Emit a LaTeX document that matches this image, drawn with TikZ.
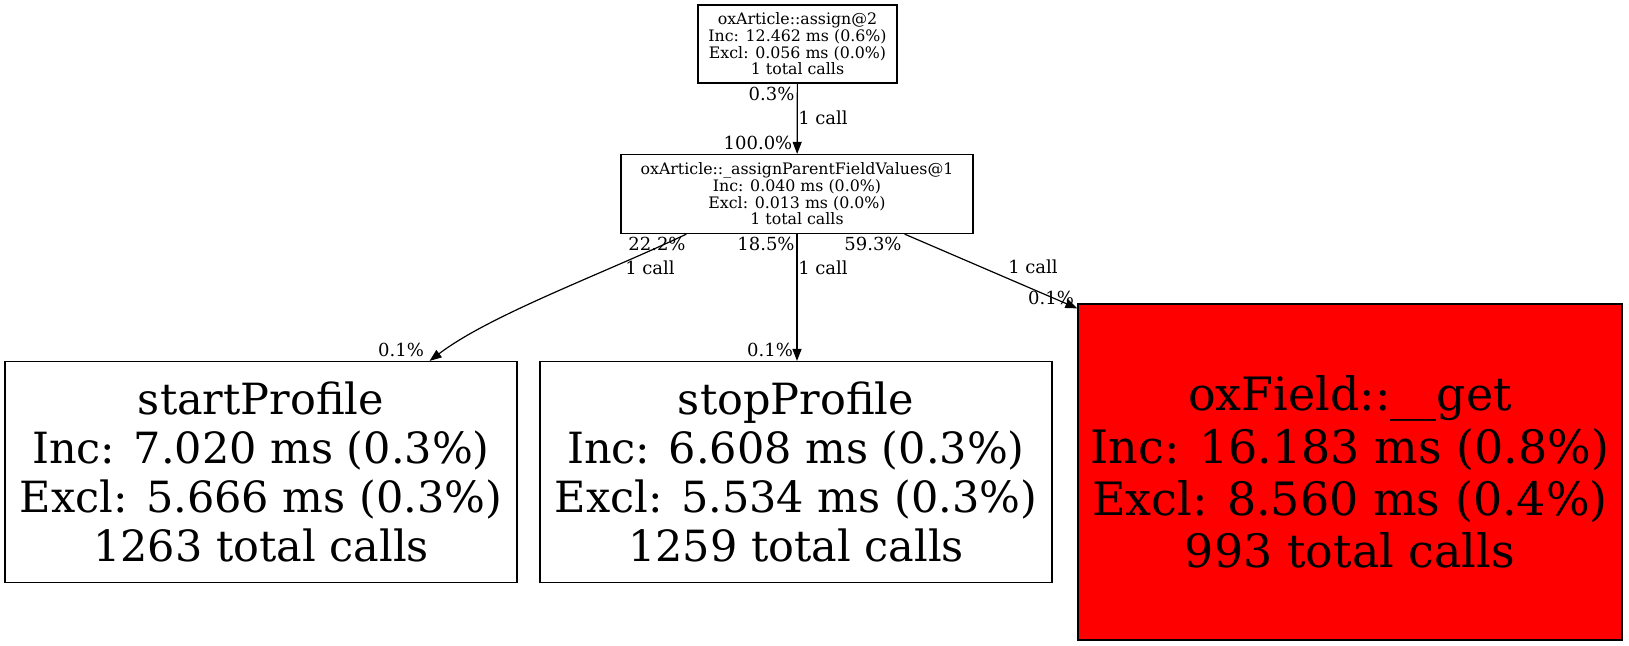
\documentclass[tikz,border=0pt]{standalone}
\usepackage{fontspec}
\setmainfont{DejaVu Serif}
\usetikzlibrary{shapes,positioning,calc}
\usetikzlibrary{arrows.meta}
\tikzstyle{funzione} = [rectangle, draw=black, line width=1.2pt, align=center, inner sep=0pt]
\tikzstyle{piccola} = [funzione, font=\fontsize{15.8}{16.7}\selectfont]
\tikzstyle{grande} = [funzione, font=\fontsize{43}{48.7}\selectfont]
\tikzstyle{etichetta} = [inner sep=0pt, font=\fontsize{18}{18}\selectfont]
\tikzstyle{arrow} = [line width=1.2pt,-{Triangle[length=12pt,width=9pt]}]

\begin{document}
\begin{tikzpicture}[x=1pt,y=-1pt]
				\useasboundingbox (0,0) rectangle (1629,645);
				\node (a2) at (797.5,44) [piccola, minimum width=199, minimum height=78] {oxArticle::assign@2\\Inc: 12.462 ms (0.6\%)\\Excl: 0.056 ms (0.0\%)\\1 total calls};
				\node (apfv) at (797,194) [piccola, minimum width=352, minimum height=79] {oxArticle::\_assignParentFieldValues@1\\Inc: 0.040 ms (0.0\%)\\Excl: 0.013 ms (0.0\%)\\1 total calls};
				\node (sp) at (261,472) [grande, minimum width=512, minimum height=221] {startProfile\\Inc: 7.020 ms (0.3\%)\\Excl: 5.666 ms (0.3\%)\\1263 total calls};
				\node (stp) at (796,472) [grande, minimum width=512, minimum height=221] {stopProfile\\Inc: 6.608 ms (0.3\%)\\Excl: 5.534 ms (0.3\%)\\1259 total calls};
				\node (get) at (1350,472) [grande, fill=red, minimum width=544, minimum height=336, font=\fontsize{46}{52.3}\selectfont] {oxField::\_\_get\\Inc: 16.183 ms (0.8\%)\\Excl: 8.560 ms (0.4\%)\\993 total calls};
				\coordinate (l0) at ([xshift=66pt]apfv.south west);
				\coordinate (l1) at ([xshift=-88pt]sp.north east);
				\coordinate (r0) at ([xshift=-69pt]apfv.south east);
				\coordinate (r1) at ([yshift=-5pt]get.north west);
				\draw[arrow] (a2) -- (apfv);
				\draw[arrow] (l0) .. controls (600,275) and (490,315) .. (l1);
				\draw[arrow] (apfv.south) -- (apfv.south |- stp.north);
				\draw[arrow] (r0) -- (r1);
				\node[etichetta] (p1) at (771.5,94) {0.3\%};
				\node[etichetta] (c1) at (823,118) {1 call};
				\node[etichetta] (p2) at (758,143) {100.0\%};
				\node[etichetta] (p3) at (657,244) {22.2\%};
				\node[etichetta] (p4) at (766,244) {18.5\%};
				\node[etichetta] (p5) at (873,244) {59.3\%};
				\node[etichetta] (c2) at (650,268) {1 call};
				\node[etichetta] (c3) at (823,268) {1 call};
				\node[etichetta] (c4) at (1033,267) {1 call};
				\node[etichetta] (p6) at (401,350) {0.1\%};
				\node[etichetta] (p7) at (770,350) {0.1\%};
				\node[etichetta] (p8) at (1051,298) {0.1\%};
				\end{tikzpicture}
\end{document}
